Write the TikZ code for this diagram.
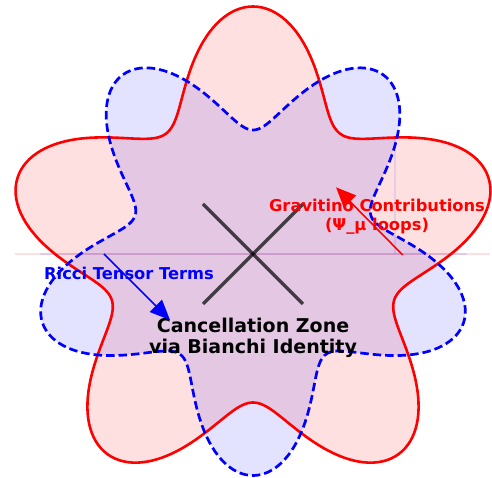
\documentclass[tikz,border=0pt]{standalone}
\usepackage{fontspec}
\setmainfont{DejaVu Sans}
\usetikzlibrary{arrows.meta}
\begin{document}
\begin{tikzpicture}[x=1pt,y=1pt,
  redcurve/.style={draw=red, line width=2.6pt, line join=round},
  bluecurve/.style={draw=blue, line width=2.7pt, dash pattern=on 8.5pt off 4pt, line join=round},
  crossline/.style={draw=black, draw opacity=0.7, line width=3.3pt},
  lbl/.style={font=\fontsize{16.3}{18.3}\selectfont\bfseries, align=center, inner sep=0pt},
  ctr/.style={font=\fontsize{19}{21.5}\selectfont\bfseries, align=center, inner sep=0pt},
  pointer/.style={line width=1.6pt, -{Triangle[length=20pt,width=17pt]}},
  seam/.style={line width=1.5pt},
]
\useasboundingbox (-253,-224) rectangle (239,254);
% fills
\fill[red, fill opacity=0.12] plot[domain=0:360, samples=361, variable=\t] (\t:{198*(1+0.25*sin(5*\t))}) -- cycle;
\fill[blue, fill opacity=0.11] plot[domain=0:360, samples=361, variable=\t] (\t:{172.75-48.75*sin(5*\t)}) -- cycle;
% faint seams
\coordinate (rsl) at (-238,0);
\coordinate (rsr) at (237,0);
\coordinate (bsl) at (-213,0);
\coordinate (bsr) at (214,0);
\coordinate (vsb) at (142,0);
\coordinate (vst) at (142,116);
\draw[seam, red, draw opacity=0.12] (rsl) -- (rsr);
\draw[seam, blue, draw opacity=0.11] (bsl) -- (bsr);
\draw[seam, blue, draw opacity=0.09] (vsb) -- (vst);
% outlines
\draw[redcurve] plot[domain=0:360, samples=361, variable=\t] (\t:{198*(1+0.25*sin(5*\t))}) -- cycle;
\draw[bluecurve] plot[domain=0:360, samples=361, variable=\t] (\t:{172.75-48.75*sin(5*\t)}) -- cycle;
% central cross
\coordinate (xa) at (-50,50);
\coordinate (xb) at (50,-50);
\coordinate (xc) at (-50,-50);
\coordinate (xd) at (50,50);
\draw[crossline] (xa) -- (xb);
\draw[crossline] (xc) -- (xd);
% texts
\node[lbl, text=red, anchor=north] (grav) at (124,54.7) {Gravitino Contributions\\(Ψ\_μ loops)};
\node[lbl, text=blue, anchor=base] (ricci) at (-124,-25.3) {Ricci Tensor Terms};
\node[ctr, text=black, anchor=north] (cancel) at (0,-63.6) {Cancellation Zone\\via Bianchi Identity};
% arrows
\coordinate (gstart) at (149.7,-1);
\coordinate (gend) at (83,66.7);
\coordinate (rstart) at (-149,0);
\coordinate (rend) at (-83,-66);
\draw[pointer, red] (gstart) -- (gend);
\draw[pointer, blue] (rstart) -- (rend);
\end{tikzpicture}
\end{document}
